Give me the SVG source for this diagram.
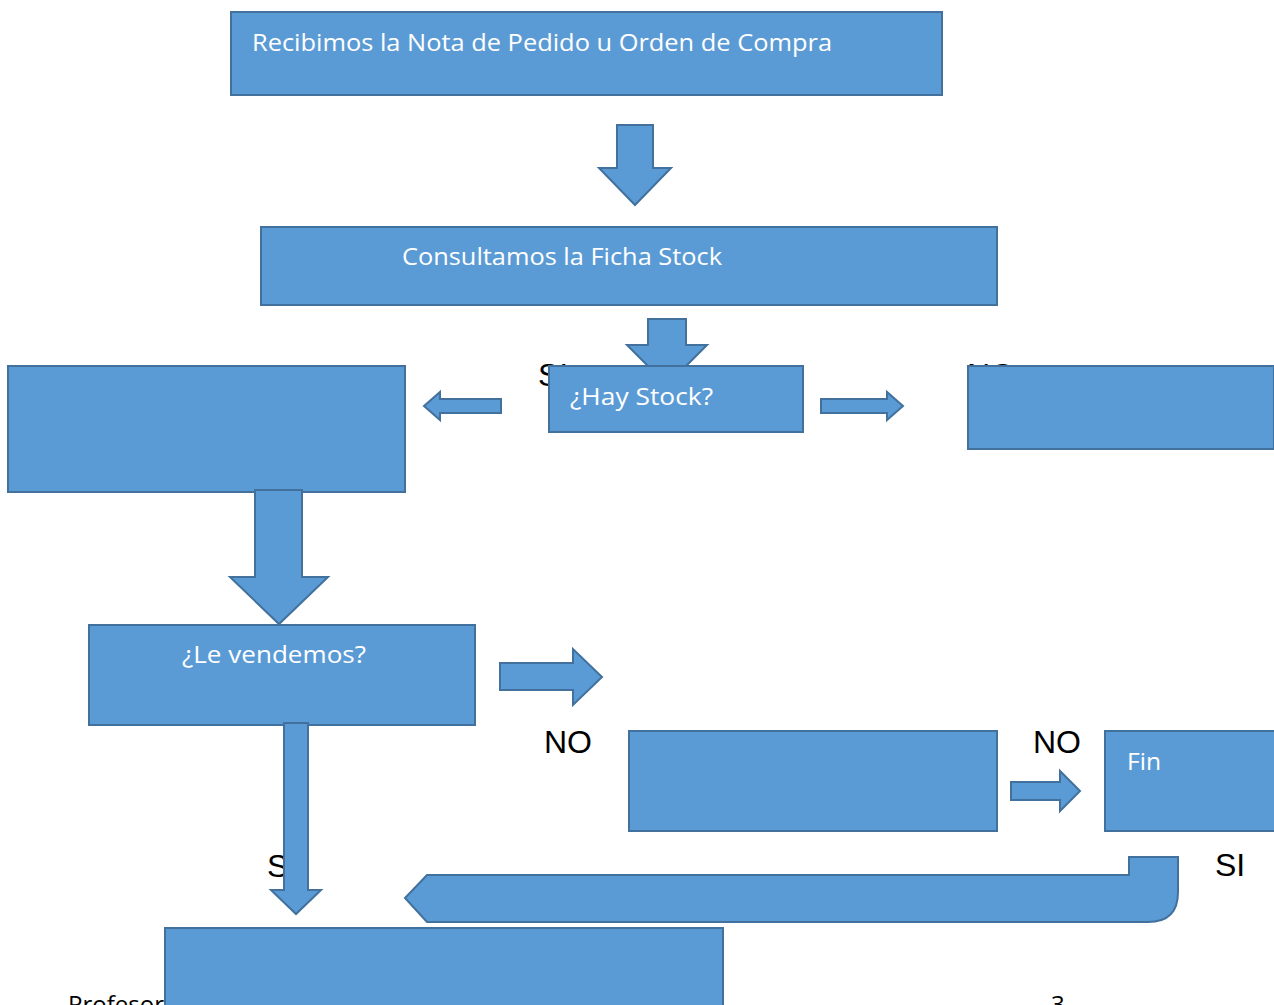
<svg xmlns="http://www.w3.org/2000/svg" width="1274" height="1005" viewBox="0 0 1274 1005">
<style>
.s{fill:#5B9BD5;stroke:#41719C;stroke-width:2}
.w{fill:#FFFFFF;font-family:"Open Sans","Noto Sans",sans-serif;font-size:24px}
.k{fill:#000000;font-family:"Liberation Sans",Arial,sans-serif;font-size:32px}
.f{fill:#000000;font-family:"Open Sans","Noto Sans",sans-serif;font-size:24px}
</style>
<rect width="1274" height="1005" fill="#FFFFFF"/>
<text class="f" x="68" y="1013" textLength="96" lengthAdjust="spacingAndGlyphs">Profesor</text>
<text class="f" x="1051" y="1013">3</text>
<text class="k" x="538" y="386">SI</text>
<text class="k" x="967" y="386">NO</text>
<text class="k" x="267" y="877">SI</text>
<text class="k" x="544" y="753">NO</text>
<text class="k" x="1033" y="753">NO</text>
<text class="k" x="1215" y="876">SI</text>
<g id="connectors">
<polygon class="s" points="617,125 653,125 653,168 671,168 635,205 599,168 617,168"/>
<polygon class="s" points="648,319 686,319 686,345 707,345 667,385 627,345 648,345"/>
<polygon class="s" points="501,399 440,399 440,392 424,406 440,420 440,413 501,413"/>
<polygon class="s" points="821,399 887,399 887,392 903,406 887,420 887,413 821,413"/>
<polygon class="s" points="500,663 573,663 573,649 602,677 573,705 573,690 500,690"/>
<polygon class="s" points="1011,782 1060,782 1060,771 1080,791 1060,811 1060,800 1011,800"/>
<path class="s" d="M1129,857 L1178,857 L1178,892 Q1178,922 1148,922 L427,922 L405,898 L427,875 L1129,875 Z"/>
</g>
<g id="n1"><rect class="s" x="231" y="12" width="711" height="83"/><text class="w" x="252" y="51" textLength="580" lengthAdjust="spacingAndGlyphs">Recibimos la Nota de Pedido u Orden de Compra</text></g>
<g id="n2"><rect class="s" x="261" y="227" width="736" height="78"/><text class="w" x="402" y="265" textLength="320" lengthAdjust="spacingAndGlyphs">Consultamos la Ficha Stock</text></g>
<g id="n3"><rect class="s" x="549" y="366" width="254" height="66"/><text class="w" x="570" y="405" textLength="143" lengthAdjust="spacingAndGlyphs">¿Hay Stock?</text></g>
<g id="n4"><rect class="s" x="8" y="366" width="397" height="126"/></g>
<g id="n5"><rect class="s" x="968" y="366" width="306" height="83"/></g>
<g id="a3"><polygon class="s" points="255,490 302,490 302,577 328,577 279,624 230,577 255,577"/></g>
<g id="n6"><rect class="s" x="89" y="625" width="386" height="100"/><text class="w" x="182" y="663" textLength="184" lengthAdjust="spacingAndGlyphs">¿Le vendemos?</text></g>
<g id="a4"><polygon class="s" points="284,723 308,723 308,890 321,890 296,914 271,890 284,890"/></g>
<g id="n7"><rect class="s" x="629" y="731" width="368" height="100"/></g>
<g id="n8"><rect class="s" x="1105" y="731" width="170" height="100"/><text class="w" x="1127" y="770" textLength="34" lengthAdjust="spacingAndGlyphs">Fin</text></g>
<g id="n9"><rect class="s" x="165" y="928" width="558" height="90"/></g>
</svg>
